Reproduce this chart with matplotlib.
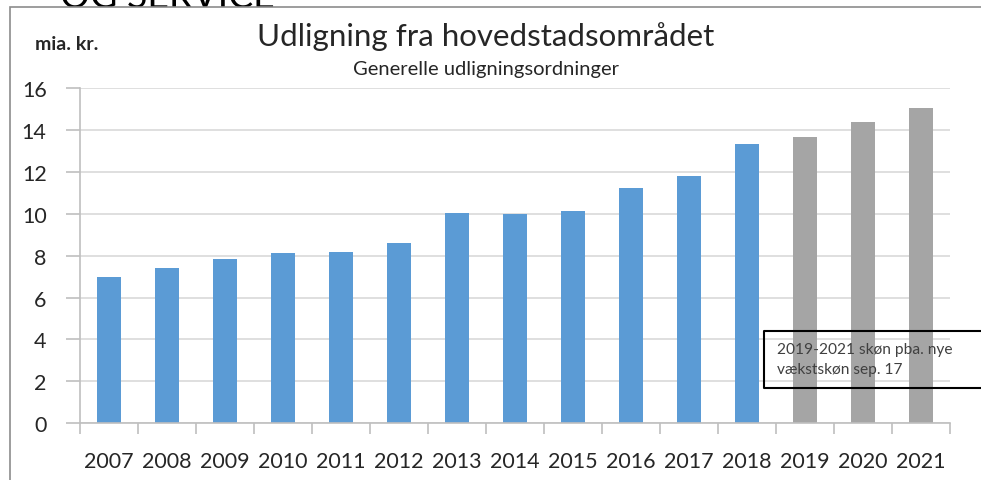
import matplotlib.pyplot as plt
from matplotlib.patches import Rectangle
from matplotlib.lines import Line2D
import numpy as np

plt.rcParams['font.family'] = ['Lato', 'DejaVu Sans']

years = ['2007', '2008', '2009', '2010', '2011', '2012', '2013', '2014',
         '2015', '2016', '2017', '2018', '2019', '2020', '2021']
values = [6.97, 7.41, 7.84, 8.11, 8.16, 8.62, 10.02, 10.0,
          10.13, 11.21, 11.81, 13.33, 13.64, 14.36, 15.04]
n_actual = 12  # 2007-2018 realised, rest estimated

blue = '#5b9bd5'
grey = '#a5a5a5'
axis_col = '#bfbfbf'

fig = plt.figure(figsize=(9.81, 4.81), dpi=100)

# partly hidden heading from the page above
fig.text(60 / 981, 1 - 8.5 / 481, 'OG SERVICE', fontsize=27, va='baseline', ha='left',
         color='black', zorder=0)
fig.patches.append(Rectangle((10 / 981, -0.1), 1.2, 1 - 8 / 481 + 0.1, transform=fig.transFigure,
                             facecolor='white', edgecolor='#8c8c8c', lw=1.2, zorder=1))

ax = fig.add_axes([80 / 981, 1 - 424.3 / 481, 870 / 981, (424.3 - 89) / 481])
ax.set_zorder(2)
ax.patch.set_alpha(0)

x = np.arange(len(years))
colors = [blue] * n_actual + [grey] * (len(years) - n_actual)
ax.bar(x, values, width=0.4, color=colors, zorder=2)

ax.set_xlim(-0.5, len(years) - 0.5)
ax.set_ylim(0, 16)
ax.set_yticks(np.arange(0, 17, 2))
ax.yaxis.grid(True, color='#d9d9d9', lw=1.2, zorder=0)
ax.set_axisbelow(True)

ax.set_xticks(x)
ax.set_xticklabels(years)
ax.set_xticks(np.arange(-0.5, len(years), 1), minor=True)
ax.tick_params(axis='x', which='major', length=0, pad=20, labelsize=15.5, colors='#262626')
ax.tick_params(axis='x', which='minor', length=8, color=axis_col, width=1.2)
ax.tick_params(axis='y', length=10, color=axis_col, width=1.2, pad=14, labelsize=15.5, labelcolor='#262626')

for s in ['top', 'right']:
    ax.spines[s].set_visible(False)
for s in ['left', 'bottom']:
    ax.spines[s].set_color(axis_col)
    ax.spines[s].set_linewidth(1.2)

fig.text(486 / 981, 1 - 37 / 481, 'Udligning fra hovedstadsområdet', fontsize=22.5,
         ha='center', va='center', color='#262626', zorder=3)
fig.text(486 / 981, 1 - 70 / 481, 'Generelle udligningsordninger', fontsize=14.5,
         ha='center', va='center', color='#262626', zorder=3)
fig.text(35 / 981, 1 - 45 / 481, 'mia. kr.', fontsize=14, fontweight='bold',
         ha='left', va='center', color='#262626', zorder=3)

# note box, open to the right edge
fig.add_artist(Line2D([1.01, 764 / 981, 764 / 981, 1.01],
                      [1 - 332 / 481, 1 - 332 / 481, 1 - 388.5 / 481, 1 - 388.5 / 481],
                      transform=fig.transFigure, color='black', lw=1.5, zorder=4))
fig.text(777 / 981, 1 - 350 / 481, '2019-2021 skøn pba. nye', fontsize=11.2,
         ha='left', va='center', color='#404040', zorder=4)
fig.text(777 / 981, 1 - 370 / 481, 'vækstskøn sep. 17', fontsize=11.2,
         ha='left', va='center', color='#404040', zorder=4)

fig.savefig('out.png', dpi=100)
